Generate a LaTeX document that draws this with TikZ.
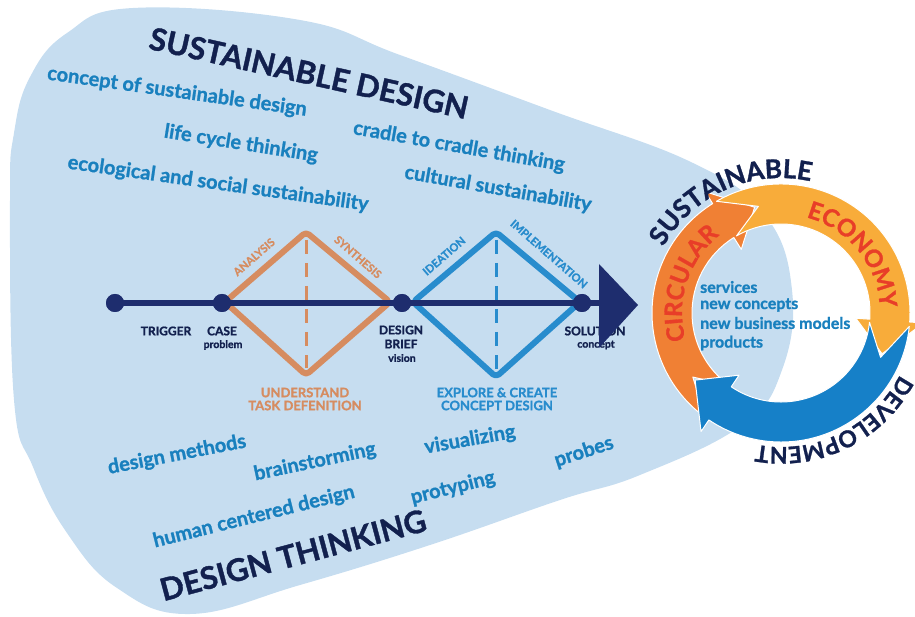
\documentclass[tikz,border=0pt]{standalone}
\usepackage{fontspec}
\setmainfont{Lato}[BoldFeatures={FakeBold=1.2}]
\usetikzlibrary{decorations.text}
\definecolor{blobblue}{RGB}{198,221,240}
\definecolor{navy}{RGB}{18,32,78}
\definecolor{linenavy}{RGB}{30,45,110}
\definecolor{txtblue}{RGB}{25,128,190}
\definecolor{tanor}{RGB}{214,140,96}
\definecolor{dblue}{RGB}{40,140,205}
\definecolor{rorange}{RGB}{240,128,52}
\definecolor{ryellow}{RGB}{248,172,58}
\definecolor{rblue}{RGB}{22,128,200}
\definecolor{rred}{RGB}{232,62,40}
\newcommand\fsz[1]{\fontsize{#1}{#1}\selectfont\bfseries}
\begin{document}
\begin{tikzpicture}[x=1pt,y=1pt,
  bt/.style={text=txtblue, font=\fsz{20}, inner sep=0},
  big/.style={text=navy, font=\fsz{31}, inner sep=0},
  lab/.style={text=navy, font=\fsz{12}, inner sep=0},
  sublab/.style={text=navy, font=\fsz{10.5}, inner sep=0},
  dot/.style={circle, fill=linenavy, minimum size=18pt, inner sep=0},
  edgelab/.style={font=\fsz{11}, inner sep=0},
  phase/.style={font=\fsz{13}, inner sep=0, align=center},
  diam/.style={line width=6pt, rounded corners=4pt, line join=round},
  dashv/.style={line width=3pt, dash pattern=on 14pt off 9pt},
  inner/.style={text=txtblue, font=\fsz{16}, inner sep=0, anchor=west}
]
\useasboundingbox (0,0) rectangle (915,-617);
% blob
\fill[blobblue] plot[smooth cycle, tension=0.7] coordinates {
 (10,-200) (14,-133) (30,-77) (67,-33) (133,-8) (300,-20) (400,-55)
 (550,-110) (693,-163) (765,-215) (792,-290) (782,-370) (742,-425)
 (640,-475) (560,-500) (430,-545) (300,-585) (190,-614) (117,-588)
 (67,-533) (33,-467) (14,-400)};

% ring arrows
\begin{scope}[shift={(781,-313)}]
\filldraw[fill=rorange, draw=white, line width=1pt, line join=round]
 (234:129) arc[start angle=234, end angle=122, radius=129] -- (122:143) -- (104:109) -- (122:75) -- (122:89)
 arc[start angle=122, end angle=234, radius=89] -- (216:109) -- cycle;
\filldraw[fill=ryellow, draw=white, line width=1pt, line join=round]
 (120:129) arc[start angle=120, end angle=-4, radius=129] -- (-4:143) -- (-22:109) -- (-4:75) -- (-4:89)
 arc[start angle=-4, end angle=120, radius=89] -- (102:109) -- cycle;
\filldraw[fill=rblue, draw=white, line width=1pt, line join=round]
 (-6:129) arc[start angle=-6, end angle=-124, radius=129] -- (-124:143) -- (-142:109) -- (-124:75) -- (-124:89)
 arc[start angle=-124, end angle=-6, radius=89] -- (-24:109) -- cycle;
\path[decorate, decoration={text along path, text={|\fsz{26}|SUSTAINABLE}, text align=center, text color=navy}]
 (190:135) arc[start angle=190, end angle=38, radius=135];
\path[decorate, decoration={text along path, text={|\fsz{23}|DEVELOPMENT}, text align=center, text color=navy}]
 (0:134) arc[start angle=0, end angle=-128, radius=134];
\path[decorate, decoration={text along path, text={|\fsz{24}|CIRCULAR}, text align=center, text color=rred}]
 (237:99) arc[start angle=237, end angle=87, radius=99];
\path[decorate, decoration={text along path, text={|\fsz{24}|ECONOMY}, text align=center, text color=rred}]
 (114:99) arc[start angle=114, end angle=-36, radius=99];
\end{scope}

\node[inner] (s1) at (700,-287) {services};
\node[inner] (s2) at (700,-305) {new concepts};
\node[inner] (s3) at (700,-323) {new business models};
\node[inner] (s4) at (700,-343) {products};

% diamonds
\draw[diam, tanor] (225,-302) -- (306,-232) -- (390,-302) -- (306,-375) -- cycle;
\draw[dashv, tanor] (306,-240) -- (306,-368);
\draw[diam, dblue] (413,-302) -- (496,-232) -- (580,-302) -- (496,-377) -- cycle;
\draw[dashv, dblue] (496,-240) -- (496,-370);

\node[edgelab, text=tanor, rotate=41] (an) at (254,-257) {ANALYSIS};
\node[edgelab, text=tanor, rotate=-41] (sy) at (358,-257) {SYNTHESIS};
\node[edgelab, text=dblue, rotate=41] (id) at (444,-256) {IDEATION};
\node[edgelab, text=dblue, rotate=-41] (im) at (549,-254) {IMPLEMENTATION};

\node[phase, text=tanor] (u1) at (305,-399) {UNDERSTAND\\[0pt]TASK DEFENITION};
\node[phase, text=dblue] (u2) at (497,-399) {EXPLORE \& CREATE\\[0pt]CONCEPT DESIGN};

% main line
\node[dot] (trig) at (115,-303) {};
\node[dot] (case) at (222,-303) {};
\node[dot] (brief) at (402,-303) {};
\node[dot] (sol) at (582,-303) {};
\coordinate (aend) at (601,-303);
\draw[linenavy, line width=6pt] (trig.center) -- (case.center) -- (brief.center) -- (sol.center) -- (aend);
\node[dot] at (trig) {};
\node[dot] at (case) {};
\node[dot] at (brief) {};

\node[lab] (l1) at (166,-331) {TRIGGER};
\node[lab] (l2) at (222,-331) {CASE};
\node[sublab] (l3) at (223,-345) {problem};
\node[lab] (l4) at (401,-330) {DESIGN};
\node[lab] (l5) at (401,-344) {BRIEF};
\node[sublab] (l6) at (402,-358) {vision};
\node[lab] (l7) at (595,-331) {SOLUTION};
\node[sublab] (l8) at (596,-345) {concept};
\node[dot] at (sol) {};
\fill[linenavy] (599,-264) -- (638,-305) -- (599,-348) -- cycle;

% sustainable design texts
\node[big, rotate=-12.5] (sd) at (309,-73) {SUSTAINABLE DESIGN};
\node[bt, rotate=-8] (t1) at (177,-92) {concept of sustainable design};
\node[bt, rotate=-9] (t2) at (241,-144) {life cycle thinking};
\node[bt, rotate=-8] (t3) at (218,-184) {ecological and social sustainability};
\node[bt, rotate=-10] (t4) at (459,-147) {cradle to cradle thinking};
\node[bt, rotate=-10] (t5) at (498,-189) {cultural sustainability};

% design thinking texts
\node[bt, rotate=11] (d1) at (177,-455) {design methods};
\node[bt, rotate=12] (d2) at (315,-462) {brainstorming};
\node[bt, rotate=10] (d3) at (470,-440) {visualizing};
\node[bt, rotate=18] (d4) at (584,-452) {probes};
\node[bt, rotate=14] (d5) at (453,-488) {protyping};
\node[bt, rotate=14] (d6) at (254,-517) {human centered design};
\node[big, rotate=15] (dt) at (293,-555) {DESIGN THINKING};
\end{tikzpicture}
\end{document}
